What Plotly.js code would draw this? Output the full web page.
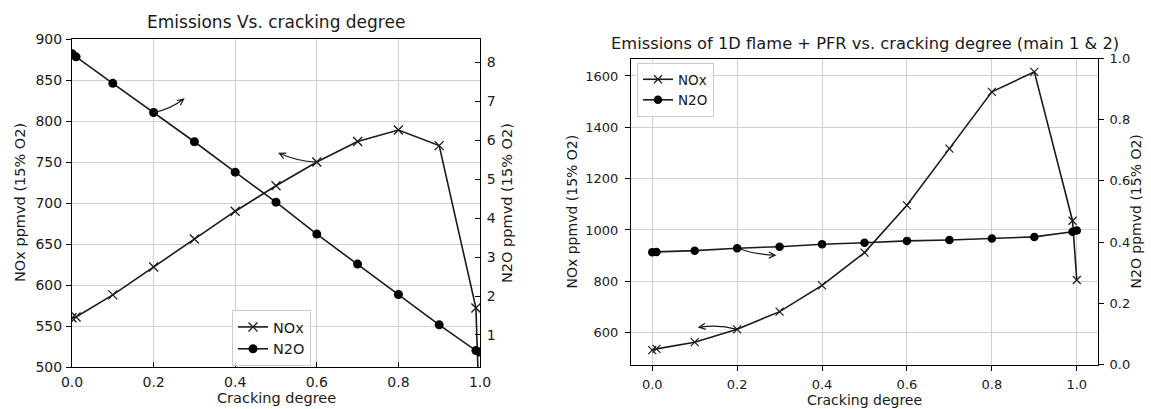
<!DOCTYPE html>
<html><head><meta charset="utf-8">
<script src="https://cdn.plot.ly/plotly-3.0.1.min.js"></script>
<style>html,body{margin:0;padding:0;background:#fff}#chart{width:1151px;height:409px}</style>
</head><body><div id="chart"></div>
<script>
// ---------------- data ----------------
const crackingDegree = [0, 0.01, 0.1, 0.2, 0.3, 0.4, 0.5, 0.6, 0.7, 0.8, 0.9, 0.99, 1.0];
// left chart: "Emissions Vs. cracking degree"
const noxLeft = [560, 561, 588, 622, 656, 690, 721, 750, 775, 789, 770, 572, 420];
const n2oLeft = [8.22, 8.14, 7.46, 6.71, 5.96, 5.18, 4.41, 3.59, 2.82, 2.04, 1.26, 0.60, 0.56];
// right chart: "Emissions of 1D flame + PFR vs. cracking degree (main 1 & 2)"
const noxRight = [532, 537, 563, 613, 682, 784, 912, 1096, 1317, 1538, 1616, 1036, 805];
const n2oRight = [0.367, 0.368, 0.372, 0.380, 0.385, 0.393, 0.398, 0.404, 0.407, 0.412, 0.417, 0.434, 0.438];

const xTickVals = [0, 0.2, 0.4, 0.6, 0.8, 1.0];
const leftTitle = 'Emissions Vs. cracking degree';
const rightTitle = 'Emissions of 1D flame + PFR vs. cracking degree (main 1 & 2)';
const xLabel = 'Cracking degree';
const noxLabel = 'NOx ppmvd (15% O2)';
const n2oLabel = 'N2O ppmvd (15% O2)';

// ---------------- geometry ----------------
const W = 1151, H = 409;
const FONT = 'DejaVu Sans, sans-serif';
const INK = '#1a1a1a';
const GRID = '#d0d0d0';

const L = {x0: 72, x1: 480, yt: 39, yb: 367, xr: [0, 1], yr: [500, 900], y2r: [0.178, 8.598]};
const R = {x0: 631, x1: 1098, yt: 58.5, yb: 364.5, xr: [-0.05, 1.05], yr: [476, 1668], y2r: [0, 1]};

function px2paper(p) { return [p[0] / W, 1 - p[1] / H]; }
function toPx(g, xv, yv, yr) {
  return [g.x0 + (xv - g.xr[0]) / (g.xr[1] - g.xr[0]) * (g.x1 - g.x0),
          g.yb - (yv - yr[0]) / (yr[1] - yr[0]) * (g.yb - g.yt)];
}

// ---------------- traces ----------------
const lineStyle = {color: INK, width: 1.6};
const traces = [
  {x: crackingDegree, y: noxLeft, name: 'NOx', xaxis: 'x', yaxis: 'y', mode: 'lines+markers',
   line: lineStyle, marker: {symbol: 'x-thin-open', size: 9, color: INK, line: {color: INK, width: 1.3}},
   legend: 'legend'},
  {x: crackingDegree, y: n2oLeft, name: 'N2O', xaxis: 'x', yaxis: 'y2', mode: 'lines+markers',
   line: lineStyle, marker: {symbol: 'circle', size: 9, color: '#000'}, legend: 'legend'},
  {x: crackingDegree, y: noxRight, name: 'NOx', xaxis: 'x2', yaxis: 'y3', mode: 'lines+markers',
   line: lineStyle, marker: {symbol: 'x-thin-open', size: 8, color: INK, line: {color: INK, width: 1.2}},
   legend: 'legend2'},
  {x: crackingDegree, y: n2oRight, name: 'N2O', xaxis: 'x2', yaxis: 'y4', mode: 'lines+markers',
   line: lineStyle, marker: {symbol: 'circle', size: 8.5, color: '#000'}, legend: 'legend2'}
];

// ---------------- curved arrows (matplotlib-like "->") ----------------
function arrowShape(g, ys, yr, idx, dx, dy, bend) {
  const t = toPx(g, crackingDegree[idx], ys[idx], yr);
  const tip = [t[0] + dx, t[1] + dy];
  const len = Math.hypot(dx, dy);
  const nx = -dy / len, ny = dx / len;
  const c = [(t[0] + tip[0]) / 2 + nx * bend, (t[1] + tip[1]) / 2 + ny * bend];
  let ux = tip[0] - c[0], uy = tip[1] - c[1];
  const ul = Math.hypot(ux, uy); ux /= ul; uy /= ul;
  const hl = 7, ang = 0.45;
  const h1 = [tip[0] - hl * (ux * Math.cos(ang) - uy * Math.sin(ang)), tip[1] - hl * (uy * Math.cos(ang) + ux * Math.sin(ang))];
  const h2 = [tip[0] - hl * (ux * Math.cos(-ang) - uy * Math.sin(-ang)), tip[1] - hl * (uy * Math.cos(-ang) + ux * Math.sin(-ang))];
  const P = p => px2paper(p).map(v => v.toFixed(5)).join(',');
  return {type: 'path', xref: 'paper', yref: 'paper',
    path: `M${P(t)} Q${P(c)} ${P(tip)} M${P(h1)} L${P(tip)} L${P(h2)}`,
    line: {color: INK, width: 1.2}};
}
const shapes = [
  arrowShape(L, n2oLeft, L.y2r, 3, 30, -13.5, 4),
  arrowShape(L, noxLeft, L.yr, 7, -37.5, -8.7, -4),
  arrowShape(R, n2oRight, R.y2r, 3, 38, 7, 3),
  arrowShape(R, noxRight, R.yr, 3, -38, -2, 4)
];

// ---------------- text annotations ----------------
function txt(text, p, size, angle) {
  const q = px2paper(p);
  return {text: text, x: q[0], y: q[1], xref: 'paper', yref: 'paper', showarrow: false,
    xanchor: 'center', yanchor: 'middle', textangle: angle || 0, font: {family: FONT, size: size, color: INK}};
}
const annotations = [
  txt(leftTitle, [276, 22.5], 17),
  txt(xLabel, [276, 397.5], 14.5),
  txt(noxLabel, [20, 203], 14.5, -90),
  txt(n2oLabel, [507, 203], 14.5, -90),
  txt(rightTitle, [864.5, 43.5], 16.3),
  txt(xLabel, [864.5, 400], 14),
  txt(noxLabel, [571, 211.5], 14, -90),
  txt(n2oLabel, [1135, 211.5], 14, -90)
];

// ---------------- axes ----------------
function baseAxis(extra) {
  return Object.assign({
    showline: true, linecolor: '#000', linewidth: 1, mirror: true,
    showgrid: true, gridcolor: GRID, gridwidth: 1, zeroline: false,
    tickcolor: '#000', tickwidth: 1, ticklen: 5,
    tickfont: {family: FONT, size: 14, color: INK}, fixedrange: true
  }, extra);
}

const layout = {
  width: W, height: H, margin: {l: 0, r: 0, t: 0, b: 0},
  paper_bgcolor: '#fff', plot_bgcolor: '#fff', showlegend: true,
  font: {family: FONT, color: INK},
  xaxis: baseAxis({domain: [L.x0 / W, L.x1 / W], range: L.xr, anchor: 'y', tickvals: xTickVals,
    tickformat: '.1f', ticks: 'inside', ticklabelstandoff: 2}),
  yaxis: baseAxis({domain: [1 - L.yb / H, 1 - L.yt / H], range: L.yr, anchor: 'x', dtick: 50, tick0: 500,
    ticks: 'outside', ticklabelstandoff: 1}),
  yaxis2: baseAxis({overlaying: 'y', side: 'right', anchor: 'x', range: L.y2r, dtick: 1, tick0: 0,
    showgrid: false, mirror: false, ticks: 'inside', ticklabelstandoff: 3}),
  xaxis2: baseAxis({domain: [R.x0 / W, R.x1 / W], range: R.xr, anchor: 'y3', tickvals: xTickVals,
    tickformat: '.1f', ticks: 'outside', tickfont: {family: FONT, size: 13, color: INK}, ticklabelstandoff: 3}),
  yaxis3: baseAxis({domain: [1 - R.yb / H, 1 - R.yt / H], range: R.yr, anchor: 'x2', dtick: 200, tick0: 600,
    ticks: 'outside', tickfont: {family: FONT, size: 13, color: INK}, ticklabelstandoff: 4}),
  yaxis4: baseAxis({overlaying: 'y3', side: 'right', anchor: 'x2', range: R.y2r, dtick: 0.2, tick0: 0,
    tickformat: '.1f', showgrid: false, mirror: false, ticks: 'outside',
    tickfont: {family: FONT, size: 13, color: INK}, ticklabelstandoff: 3}),
  legend: {x: 232 / W, y: 1 - 310 / H, xanchor: 'left', yanchor: 'top', bgcolor: 'rgba(255,255,255,0.85)',
    bordercolor: '#cccccc', borderwidth: 1, font: {family: FONT, size: 14.5, color: INK}, itemwidth: 30,
    tracegroupgap: 0},
  legend2: {x: 637 / W, y: 1 - 63 / H, xanchor: 'left', yanchor: 'top', bgcolor: 'rgba(255,255,255,0.85)',
    bordercolor: '#cccccc', borderwidth: 1, font: {family: FONT, size: 13.5, color: INK}, itemwidth: 30,
    tracegroupgap: 0},
  shapes: shapes,
  annotations: annotations
};

Plotly.newPlot('chart', traces, layout, {staticPlot: true, displayModeBar: false});
</script>
</body></html>
